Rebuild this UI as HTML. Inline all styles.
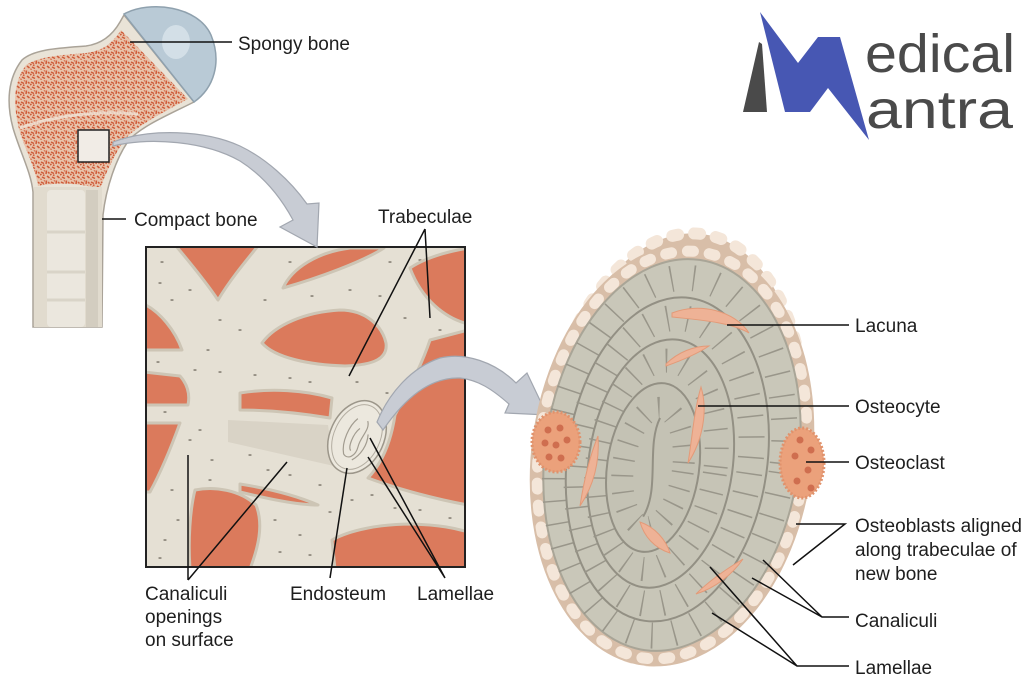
<!DOCTYPE html>
<html><head><meta charset="utf-8"><style>
html,body{margin:0;padding:0;background:#fff;}
svg{display:block;}
text{font-family:"Liberation Sans",Arial,sans-serif;fill:#1e1e1e;font-size:19px;}
</style></head><body>
<svg width="1024" height="679" viewBox="0 0 1024 679" xmlns="http://www.w3.org/2000/svg">
<defs>
<pattern id="sp" width="10" height="10" patternUnits="userSpaceOnUse">
<rect width="10" height="10" fill="#e8c3ab"/>
<path d="M1,2 L4,3.5 M6.5,0.5 L6,4 M2,7 L5,8.5 M7,6 L9.5,8 M0,5 L1.5,4 M3,5 L4.5,5.5 M8,2 L9.5,3.5" stroke="#cf5a38" stroke-width="1.5" fill="none"/>
<path d="M4,0 L5,1.5 M0,9 L2,9.5" stroke="#dc7a58" stroke-width="1.2" fill="none"/>
</pattern>
<clipPath id="bx"><rect x="146" y="247" width="319" height="320"/></clipPath>
</defs>
<rect width="1024" height="679" fill="#fff"/>

<!-- FEMUR -->
<path d="M33,327 L33,192 C31,172 20,152 13,128 C6,102 8,78 22,60 C34,49 60,48 86,46 C101,44 112,36 120,22 L124,15 L194,102 C168,115 142,126 129,140 C116,158 106,188 103,215 L102,327 Z" fill="#e9e3d7" stroke="#aaa398" stroke-width="1.5"/>
<path d="M38,186 C35,166 23,146 18,125 C13,101 14,81 26,65 C40,56 62,55 86,53 C102,51 112,44 121,30 L188,99 C164,112 140,124 126,138 C113,156 105,176 100,189 C80,183 56,182 38,186 Z" fill="url(#sp)"/>
<path d="M20,128 C50,117 92,110 138,114" stroke="#f0e6da" stroke-width="3" fill="none" opacity="0.8"/>
<rect x="34" y="187" width="68" height="140" fill="#e1dbce"/>
<rect x="47" y="190" width="38" height="137" rx="4" fill="#ebe7de"/>
<rect x="86" y="190" width="12" height="137" fill="#d3cdc0"/>
<path d="M47,232 L85,232 M47,272 L85,272 M47,300 L85,300" stroke="#d9d4c8" stroke-width="3"/>
<path d="M124,14 C150,0 198,6 211,35 C222,62 214,88 194,102 Z" fill="#b9cad6" stroke="#8fa1ae" stroke-width="1.5"/>
<ellipse cx="176" cy="42" rx="14" ry="17" fill="#d3dfe7"/>
<rect x="78" y="130" width="31" height="32" fill="#f1ece6" stroke="#222" stroke-width="1.5"/>

<!-- TRABECULAE BOX -->
<g clip-path="url(#bx)">
<rect x="146" y="247" width="319" height="320" fill="#e5e0d4"/>
<polygon points="228,420 328,425 334,466 228,442" fill="#d9d3c6"/>
<g fill="#958f84">
<ellipse cx="162" cy="262" rx="1.7" ry="1"/><ellipse cx="160" cy="283" rx="1.7" ry="1"/><ellipse cx="190" cy="290" rx="1.7" ry="1"/><ellipse cx="172" cy="300" rx="1.7" ry="1"/><ellipse cx="220" cy="320" rx="1.7" ry="1"/><ellipse cx="208" cy="350" rx="1.7" ry="1"/><ellipse cx="240" cy="330" rx="1.7" ry="1"/><ellipse cx="265" cy="300" rx="1.7" ry="1"/><ellipse cx="290" cy="262" rx="1.7" ry="1"/><ellipse cx="312" cy="296" rx="1.7" ry="1"/><ellipse cx="330" cy="262" rx="1.7" ry="1"/><ellipse cx="350" cy="290" rx="1.7" ry="1"/><ellipse cx="380" cy="296" rx="1.7" ry="1"/><ellipse cx="390" cy="262" rx="1.7" ry="1"/><ellipse cx="420" cy="260" rx="1.7" ry="1"/><ellipse cx="440" cy="330" rx="1.7" ry="1"/><ellipse cx="455" cy="300" rx="1.7" ry="1"/><ellipse cx="405" cy="318" rx="1.7" ry="1"/><ellipse cx="158" cy="362" rx="1.7" ry="1"/><ellipse cx="195" cy="370" rx="1.7" ry="1"/><ellipse cx="220" cy="372" rx="1.7" ry="1"/><ellipse cx="255" cy="375" rx="1.7" ry="1"/><ellipse cx="290" cy="378" rx="1.7" ry="1"/><ellipse cx="310" cy="382" rx="1.7" ry="1"/><ellipse cx="357" cy="382" rx="1.7" ry="1"/><ellipse cx="387" cy="393" rx="1.7" ry="1"/><ellipse cx="418" cy="380" rx="1.7" ry="1"/><ellipse cx="412" cy="398" rx="1.7" ry="1"/><ellipse cx="165" cy="412" rx="1.7" ry="1"/><ellipse cx="190" cy="440" rx="1.7" ry="1"/><ellipse cx="172" cy="490" rx="1.7" ry="1"/><ellipse cx="200" cy="430" rx="1.7" ry="1"/><ellipse cx="212" cy="460" rx="1.7" ry="1"/><ellipse cx="250" cy="455" rx="1.7" ry="1"/><ellipse cx="268" cy="470" rx="1.7" ry="1"/><ellipse cx="290" cy="475" rx="1.7" ry="1"/><ellipse cx="320" cy="485" rx="1.7" ry="1"/><ellipse cx="178" cy="520" rx="1.7" ry="1"/><ellipse cx="165" cy="540" rx="1.7" ry="1"/><ellipse cx="210" cy="480" rx="1.7" ry="1"/><ellipse cx="275" cy="520" rx="1.7" ry="1"/><ellipse cx="300" cy="535" rx="1.7" ry="1"/><ellipse cx="330" cy="512" rx="1.7" ry="1"/><ellipse cx="352" cy="500" rx="1.7" ry="1"/><ellipse cx="372" cy="495" rx="1.7" ry="1"/><ellipse cx="395" cy="508" rx="1.7" ry="1"/><ellipse cx="420" cy="510" rx="1.7" ry="1"/><ellipse cx="450" cy="518" rx="1.7" ry="1"/><ellipse cx="280" cy="552" rx="1.7" ry="1"/><ellipse cx="160" cy="558" rx="1.7" ry="1"/><ellipse cx="310" cy="555" rx="1.7" ry="1"/>
</g>
<g fill="#db7a5c" stroke="#cdc5b5" stroke-width="3" stroke-linejoin="round">
<path d="M176,246 L258,246 C245,262 230,280 218,300 C208,285 192,265 176,246 Z"/>
<path d="M283,288 C292,268 318,252 350,248 L384,248 C362,262 318,278 283,288 Z"/>
<path d="M410,268 C425,258 445,252 468,248 L468,324 C445,318 422,300 410,268 Z"/>
<path d="M262,343 C275,325 305,312 340,310 C365,310 382,325 386,343 C388,358 375,365 345,366 C310,365 275,358 262,343 Z"/>
<path d="M144,304 C160,312 175,330 182,350 L144,350 Z"/>
<path d="M144,372 L180,376 C188,385 190,395 188,405 L144,405 Z"/>
<path d="M144,423 L180,423 C172,445 162,470 150,492 L144,492 Z"/>
<path d="M195,490 C215,486 240,490 256,505 C264,525 258,548 250,569 L190,569 C188,540 190,510 195,490 Z"/>
<path d="M240,393 C270,388 305,390 332,398 L330,418 C300,413 268,410 240,410 Z"/>
<path d="M430,340 L468,330 L468,505 C440,500 400,490 368,478 C385,460 392,435 395,415 C405,395 420,370 430,340 Z"/>
<path d="M332,540 C350,530 380,524 412,524 C440,525 455,528 468,532 L468,569 L335,569 Z"/>
<path d="M240,484 C265,488 295,495 318,505 C296,505 265,498 240,492 Z"/>
</g>
<!-- cut end disk -->
<g transform="rotate(25 357 437)">
<ellipse cx="357" cy="437" rx="27" ry="38" fill="#ece8de" stroke="#9c968a" stroke-width="1.5"/>
<ellipse cx="357" cy="437" rx="23" ry="34" fill="none" stroke="#b3ada1" stroke-width="1"/>
<path d="M350,420 C345,430 345,448 352,458 C358,462 364,455 362,445 C360,435 366,425 360,418 M356,428 C352,436 353,450 357,452 M366,430 C370,440 368,452 362,460" fill="none" stroke="#a29c90" stroke-width="1.2"/>
</g>
</g>
<rect x="146" y="247" width="319" height="320" fill="none" stroke="#222" stroke-width="2"/>

<!-- ARROWS -->
<path d="M113,142 C150,128 205,130 240,146 C265,158 290,180 307,204 L319,203 L317,247 L280,227 L293,220 C280,196 262,175 240,161 C205,141 150,137 113,146 Z" fill="#c8ccd4" stroke="#a2a7b0" stroke-width="1.2"/>
<path d="M377,422 C388,395 410,368 440,358 C465,352 495,362 516,383 L527,373 L547,415 L505,413 L509,404 C492,389 478,380 460,378 C430,377 405,398 383,430 Z" fill="#c8ccd4" stroke="#a2a7b0" stroke-width="1.2"/>

<!-- OVAL -->
<g transform="rotate(8 672 455)">
<ellipse cx="672" cy="447" rx="129" ry="215" fill="#d8bea8"/>
<ellipse cx="672" cy="447" rx="129" ry="215" fill="none" stroke="#f4e6d9" stroke-width="12" stroke-dasharray="6 16" stroke-linecap="round"/>
<ellipse cx="672" cy="455" rx="133" ry="205" fill="none" stroke="#d8bea8" stroke-width="15"/>
<ellipse cx="672" cy="455" rx="133" ry="205" fill="none" stroke="#f4e6d9" stroke-width="11" stroke-dasharray="6 16" stroke-linecap="round"/>
<ellipse cx="672" cy="455" rx="127" ry="197" fill="#c9c7b9" stroke="#a9a597" stroke-width="2"/>
<ellipse cx="670" cy="457" rx="113" ry="180" fill="none" stroke="#99968a" stroke-width="26" stroke-dasharray="1.5 21"/>
<ellipse cx="668" cy="460" rx="100" ry="163" fill="#c8c6b8" stroke="#96938707" stroke-width="0"/>
<ellipse cx="668" cy="460" rx="100" ry="163" fill="none" stroke="#939084" stroke-width="2"/>
<ellipse cx="665" cy="462" rx="86" ry="144" fill="none" stroke="#99968a" stroke-width="26" stroke-dasharray="1.5 19"/>
<ellipse cx="662" cy="465" rx="72" ry="125" fill="#c6c4b6" stroke="#939084" stroke-width="2"/>
<ellipse cx="658" cy="467" rx="59" ry="105" fill="none" stroke="#99968a" stroke-width="24" stroke-dasharray="1.5 17"/>
<ellipse cx="655" cy="470" rx="46" ry="85" fill="#c4c2b4" stroke="#939084" stroke-width="2"/>
<ellipse cx="655" cy="470" rx="30" ry="60" fill="none" stroke="#99968a" stroke-width="22" stroke-dasharray="1.5 15"/>
<path d="M655,420 C645,450 665,490 652,520" stroke="#939084" stroke-width="2" fill="none"/>
</g>
<!-- lacunae -->
<g fill="#eeb296" stroke="#e39a78" stroke-width="1">
<path d="M672,313 C700,302 735,311 749,333 C730,322 700,320 672,317 Z"/>
<path d="M666,364 C678,352 694,346 709,346 C697,354 683,360 666,366 Z"/>
<path d="M701,387 C708,410 703,440 688,463 C692,440 694,410 701,387 Z"/>
<path d="M598,436 C600,465 592,488 580,506 C584,480 589,458 598,436 Z"/>
<path d="M640,522 C655,527 666,540 670,553 C654,548 644,536 640,522 Z"/>
<path d="M696,594 C710,580 728,568 743,559 C732,575 715,588 696,594 Z"/>
</g>
<!-- osteoclasts -->
<ellipse cx="556" cy="442" rx="24" ry="30" fill="#eba17b" stroke="#e0926c" stroke-width="3" stroke-dasharray="2 2"/>
<g fill="#cf6e4f"><circle cx="548" cy="430" r="3.5"/><circle cx="560" cy="428" r="3.5"/><circle cx="545" cy="443" r="3.5"/><circle cx="556" cy="445" r="3.5"/><circle cx="567" cy="440" r="3.5"/><circle cx="549" cy="457" r="3.5"/><circle cx="561" cy="458" r="3.5"/></g>
<ellipse cx="802" cy="463" rx="22" ry="35" fill="#eba17b" stroke="#e0926c" stroke-width="3" stroke-dasharray="2 2"/>
<g fill="#cf6e4f"><circle cx="800" cy="440" r="3.5"/><circle cx="811" cy="450" r="3.5"/><circle cx="795" cy="456" r="3.5"/><circle cx="808" cy="470" r="3.5"/><circle cx="797" cy="481" r="3.5"/><circle cx="811" cy="488" r="3.5"/></g>

<!-- LEADER LINES -->
<g stroke="#111" stroke-width="1.5" fill="none">
<path d="M130,42 L232,42"/>
<path d="M102,219 L126,219"/>
<path d="M425,229 L349,376 M425,229 L430,318"/>
<path d="M188,455 L188,580 M287,462 L188,580"/>
<path d="M347,468 L330,578"/>
<path d="M370,438 L445,578 M368,457 L445,578"/>
<path d="M727,325 L849,325"/>
<path d="M698,406 L849,406"/>
<path d="M806,462 L849,462"/>
<path d="M796,524 L845,524 L793,565"/>
<path d="M763,560 L822,617 M752,578 L822,617 L849,617"/>
<path d="M710,567 L797,666 M712,613 L797,666 L849,666"/>
</g>

<!-- LABELS -->
<text x="238" y="50">Spongy bone</text>
<text x="134" y="226">Compact bone</text>
<text x="378" y="223">Trabeculae</text>
<text x="145" y="600">Canaliculi</text>
<text x="145" y="623">openings</text>
<text x="145" y="646">on surface</text>
<text x="290" y="600">Endosteum</text>
<text x="417" y="600">Lamellae</text>
<text x="855" y="332">Lacuna</text>
<text x="855" y="413">Osteocyte</text>
<text x="855" y="469">Osteoclast</text>
<text x="855" y="532">Osteoblasts aligned</text>
<text x="855" y="556">along trabeculae of</text>
<text x="855" y="580">new bone</text>
<text x="855" y="627">Canaliculi</text>
<text x="855" y="674">Lamellae</text>

<!-- LOGO -->
<polygon points="759,42 762,44 767,112 743,112" fill="#4a4a4a"/>
<polygon points="760,12 798,63 818,37 840,37 869,140 828,88 810,112 785,112" fill="#4757b3"/>
<text x="865" y="72" style="font-size:54px;fill:#4a4a4a" textLength="150" lengthAdjust="spacingAndGlyphs">edical</text>
<text x="866" y="128" style="font-size:54px;fill:#4a4a4a" textLength="147" lengthAdjust="spacingAndGlyphs">antra</text>
</svg>
</body></html>
